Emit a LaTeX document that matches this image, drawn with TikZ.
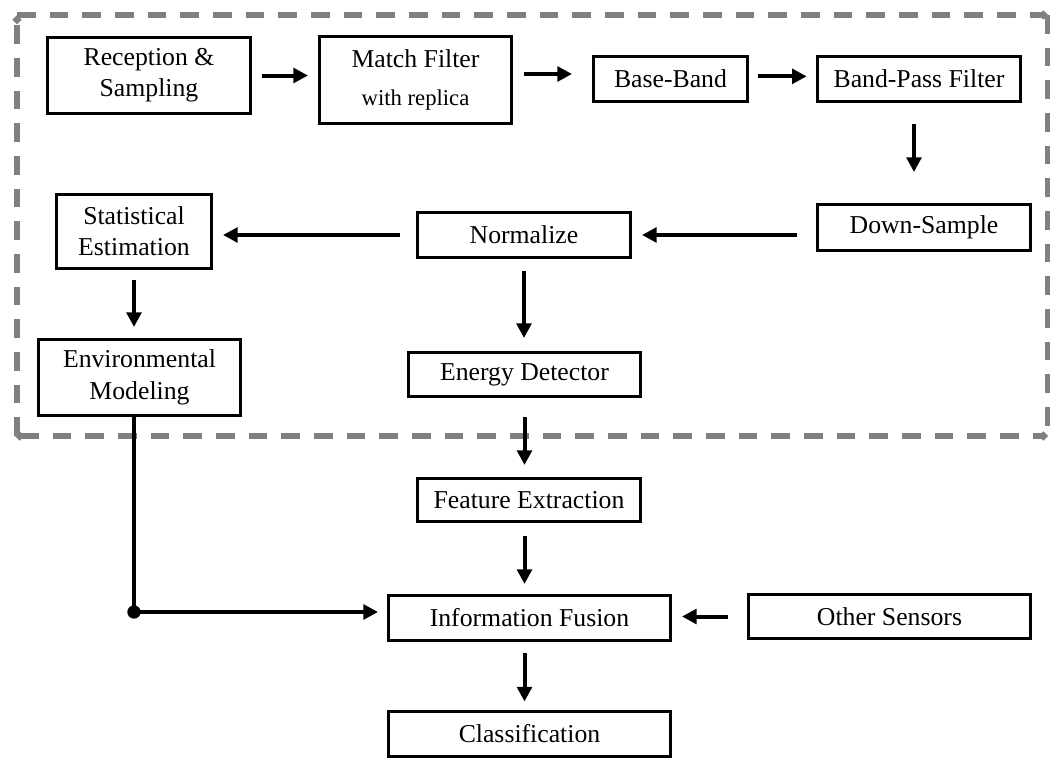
\documentclass[tikz,border=0pt]{standalone}
\usepackage{fontspec}
\setmainfont{Liberation Serif}
\usetikzlibrary{arrows.meta}
\tikzset{
  blk/.style={draw, line width=2.25pt, align=center, inner sep=0pt,
    font=\fontsize{19.3}{23.5}\selectfont},
  flow/.style={line width=3pt, -{Triangle[length=11pt,width=11pt]}},
  fence/.style={draw=gray, line width=4pt, dash pattern=on 14pt off 10.5pt},
  fencetip/.style={-{Diamond[length=7pt,width=7pt]}}
}
\begin{document}
\begin{tikzpicture}[x=0.75pt,y=-0.75pt]
\useasboundingbox (0,0) rectangle (1050,758);
\draw[fence,fencetip] (17,436) -- (17,15);
\draw[fence,fencetip] (17,15) -- (1048,15);
\draw[fence] (1048,15) -- (1048,436);
\draw[fence,{Diamond[length=7pt,width=7pt]}-{Diamond[length=7pt,width=7pt]}] (15,436) -- (1048,436);

\node[blk, minimum width=152.25pt, minimum height=57pt] (rs) at (149,75.5) {Reception \&\\Sampling};
\node[blk, minimum width=144pt, minimum height=65.25pt] (mf) at (415.5,80)
  {Match Filter\\[5pt]{\fontsize{17}{20}\selectfont with replica}};
\node[blk, minimum width=115.5pt, minimum height=33.75pt] (bb) at (670.5,79) {Base-Band};
\node[blk, minimum width=152.25pt, minimum height=33.75pt] (bpf) at (919,79) {Band-Pass Filter};
\node[blk, minimum width=159.75pt, minimum height=34.5pt] (ds) at (924,227.5) {Down-Sample};
\node[blk, minimum width=159.75pt, minimum height=33.75pt] (norm) at (524,235) {Normalize};
\node[blk, minimum width=116.25pt, minimum height=55.5pt] (stat) at (134,231.5) {Statistical\\Estimation};
\node[blk, minimum width=151.5pt, minimum height=57pt] (env) at (139.5,377.5) {Environmental\\Modeling};
\node[blk, minimum width=174pt, minimum height=33pt] (ed) at (524.5,374.5) {Energy Detector};
\node[blk, minimum width=167.25pt, minimum height=32.25pt] (fe) at (529,500) {Feature Extraction};
\node[blk, minimum width=211.5pt, minimum height=33.75pt] (fus) at (529.5,618) {Information Fusion};
\node[blk, minimum width=211.5pt, minimum height=33pt] (os) at (889.5,616.5) {Other Sensors};
\node[blk, minimum width=211.5pt, minimum height=33.75pt] (cl) at (529.5,733.5) {Classification};

\draw[flow, shorten <=7.5pt, shorten >=7.5pt] (rs.east) -- (rs.east -| mf.west);
\draw[flow, shorten <=8pt, shorten >=15pt] ([yshift=4.5pt]mf.east) -- ([yshift=4.5pt]mf.east -| bb.west);
\draw[flow, shorten <=7pt, shorten >=7pt] ([yshift=2pt]bb.east) -- ([yshift=2pt]bb.east -| bpf.west);
\draw[flow, shorten <=15.75pt, shorten >=23.25pt] ([xshift=-3.75pt]bpf.south) -- ([xshift=-3.75pt]bpf.south |- ds.north);
\draw[flow, shorten <=14.25pt, shorten >=7.5pt] (ds.west |- norm) -- (norm.east);
\draw[flow, shorten <=12pt, shorten >=7.5pt] (norm.west) -- (norm.west -| stat.east);
\draw[flow, shorten <=7.5pt, shorten >=8.25pt] (stat.south) -- (stat.south |- env.north);
\draw[flow, shorten <=9pt, shorten >=9.75pt] (norm.south) -- (norm.south |- ed.north);
\draw[flow, shorten <=14.25pt, shorten >=9pt] (ed.south) -- (ed.south |- fe.north);
\draw[flow, shorten <=9.75pt, shorten >=7.5pt] (ed.south |- fe.south) -- (ed.south |- fus.north);
\draw[flow, shorten <=8.25pt, shorten >=6pt] (ed.south |- fus.south) -- (ed.south |- cl.north);
\draw[flow, shorten <=14.25pt, shorten >=7.5pt] (os.west) -- (os.west -| fus.east);

\coordinate (tap) at (134,612);
\draw[flow, shorten >=6.75pt] (env.south -| tap) -- (tap) -- (tap -| fus.west);
\fill (tap) circle (5pt);
\end{tikzpicture}
\end{document}
